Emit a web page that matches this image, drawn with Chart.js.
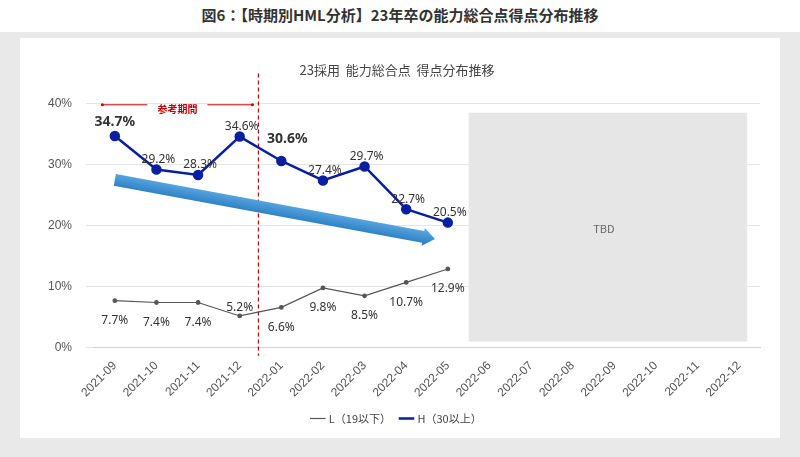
<!DOCTYPE html>
<html>
<head>
<meta charset="utf-8">
<script src="https://cdn.jsdelivr.net/npm/chart.js@4.4.1/dist/chart.umd.min.js"></script>
<style>
  body { margin: 0; background: #fff; font-family: "Noto Sans CJK JP", "Noto Sans", sans-serif; }
  .title { text-align: center; font-weight: bold; font-size: 15px; color: #333; height: 30px; line-height: 30px; }
  .frame { position: absolute; left: 0; top: 32px; width: 800px; height: 425px; background: #e9e9e9; }
  .card { position: absolute; left: 20px; top: 6px; width: 760px; height: 400px; background: #fff; }
</style>
</head>
<body>
<div class="title">図6：【時期別HML分析】23年卒の能力総合点得点分布推移</div>
<div class="frame"><div class="card"><canvas id="c" width="760" height="400"></canvas></div></div>
<script>
const months = ['2021-09','2021-10','2021-11','2021-12','2022-01','2022-02','2022-03','2022-04','2022-05',
  '2022-06','2022-07','2022-08','2022-09','2022-10','2022-11','2022-12'];
const lowValues = [7.7, 7.4, 7.4, 5.2, 6.6, 9.8, 8.5, 10.7, 12.9];
const highValues = [34.7, 29.2, 28.3, 34.6, 30.6, 27.4, 29.7, 22.7, 20.5];
const boldIdx = [0, 4];

// 注釈（参考期間の線、TBD枠、矢印、ラベル）
const annotations = {
  id: 'annotations',
  beforeDatasetsDraw(chart) {
    const { ctx, scales: { x, y }, chartArea } = chart;
    const step = x.getPixelForValue(1) - x.getPixelForValue(0);
    ctx.save();
    // TBD box
    const bx = x.getPixelForValue(8) + step * 0.5;
    ctx.fillStyle = '#e6e6e6';
    ctx.fillRect(bx, y.getPixelForValue(38.5), x.getPixelForValue(15) + 8 - bx, y.getPixelForValue(1) - y.getPixelForValue(38.5));
    ctx.fillStyle = '#666';
    ctx.font = '11px "Noto Sans CJK JP"';
    ctx.textAlign = 'center';
    ctx.fillText('TBD', (bx + x.getPixelForValue(15)) / 2, y.getPixelForValue(19.5));
    // dashed line
    const dx = x.getPixelForValue(3) + step * 0.45;
    ctx.strokeStyle = '#c00000';
    ctx.setLineDash([4, 3]);
    ctx.lineWidth = 1.2;
    ctx.beginPath();
    ctx.moveTo(dx, chartArea.top - 30);
    ctx.lineTo(dx, chartArea.bottom + 8);
    ctx.stroke();
    ctx.setLineDash([]);
    // 参考期間
    const ry = y.getPixelForValue(39.8);
    const lx = x.getPixelForValue(0) - step * 0.3, rx = dx - 6;
    ctx.fillStyle = '#c00000';
    ctx.font = 'bold 10px "Noto Sans CJK JP"';
    ctx.fillText('参考期間', (lx + rx) / 2, ry + 4);
    ctx.lineWidth = 1;
    [[lx, (lx + rx) / 2 - 30], [(lx + rx) / 2 + 30, rx]].forEach(([a, b]) => {
      ctx.beginPath(); ctx.moveTo(a, ry); ctx.lineTo(b, ry); ctx.stroke();
    });
    ctx.beginPath(); ctx.arc(lx, ry, 1.5, 0, Math.PI * 2); ctx.arc(rx, ry, 1.5, 0, Math.PI * 2); ctx.fill();
    // blue arrow
    const x0 = x.getPixelForValue(0), y0 = y.getPixelForValue(27.5);
    const x1 = x.getPixelForValue(7.5) + 8, y1 = y.getPixelForValue(17.8);
    const ang = Math.atan2(y1 - y0, x1 - x0);
    ctx.translate(x0, y0); ctx.rotate(ang);
    const len = Math.hypot(x1 - x0, y1 - y0);
    const g = ctx.createLinearGradient(0, -7, 0, 7);
    g.addColorStop(0, '#5aa7e0'); g.addColorStop(1, '#2b7fc4');
    ctx.fillStyle = g;
    ctx.beginPath();
    ctx.moveTo(0, -6); ctx.lineTo(len - 12, -6); ctx.lineTo(len - 12, -9); ctx.lineTo(len, 0);
    ctx.lineTo(len - 12, 9); ctx.lineTo(len - 12, 6); ctx.lineTo(0, 6); ctx.closePath();
    ctx.fill();
    ctx.restore();
  },
  afterDatasetsDraw(chart) {
    const { ctx } = chart;
    ctx.save();
    ctx.textAlign = 'center';
    ctx.fillStyle = '#333';
    chart.getDatasetMeta(1).data.forEach((p, i) => {
      const bold = boldIdx.includes(i);
      ctx.font = (bold ? 'bold 14px' : '12px') + ' "Noto Sans", sans-serif';
      const off = i === 4 ? [6, -22] : i === 0 ? [0, -14] : [2, -10];
      ctx.fillText(highValues[i].toFixed(1) + '%', p.x + off[0], p.y + off[1]);
    });
    ctx.font = '12px "Noto Sans", sans-serif';
    chart.getDatasetMeta(0).data.forEach((p, i) => {
      const above = i === 3 ? -8 : 20;
      ctx.fillText(lowValues[i].toFixed(1) + '%', p.x, p.y + above);
    });
    ctx.restore();
  }
};

new Chart(document.getElementById('c'), {
  type: 'line',
  data: {
    labels: months,
    datasets: [
      { label: 'L（19以下）', data: lowValues, borderColor: '#555', backgroundColor: '#555',
        borderWidth: 1.2, pointRadius: 1.8, pointHoverRadius: 2 },
      { label: 'H（30以上）', data: highValues, borderColor: '#0a1fa0', backgroundColor: '#0a1fa0',
        borderWidth: 2.5, pointRadius: 4 }
    ]
  },
  options: {
    responsive: false,
    animation: false,
    layout: { padding: { left: 14, right: 20, top: 10, bottom: 4 } },
    plugins: {
      title: { display: true, text: '23採用  能力総合点  得点分布推移', color: '#444',
        font: { size: 13, family: '"Noto Sans CJK JP"', weight: 'normal' }, padding: { top: 14, bottom: 26 } },
      legend: { position: 'bottom', labels: { usePointStyle: true, pointStyle: 'line', boxWidth: 14,
        color: '#444', font: { size: 11, family: '"Noto Sans CJK JP"' } } },
      tooltip: { enabled: false }
    },
    scales: {
      y: { min: 0, max: 40, ticks: { stepSize: 10, callback: v => v + '%', color: '#555', font: { size: 12 }, padding: 14 },
        grid: { color: '#e4e4e4' }, border: { display: false } },
      x: { offset: true, ticks: { maxRotation: 45, minRotation: 45, color: '#555', font: { size: 12 } },
        grid: { display: false }, border: { color: '#d0d0d0' } }
    }
  },
  plugins: [annotations]
});
</script>
</body>
</html>
